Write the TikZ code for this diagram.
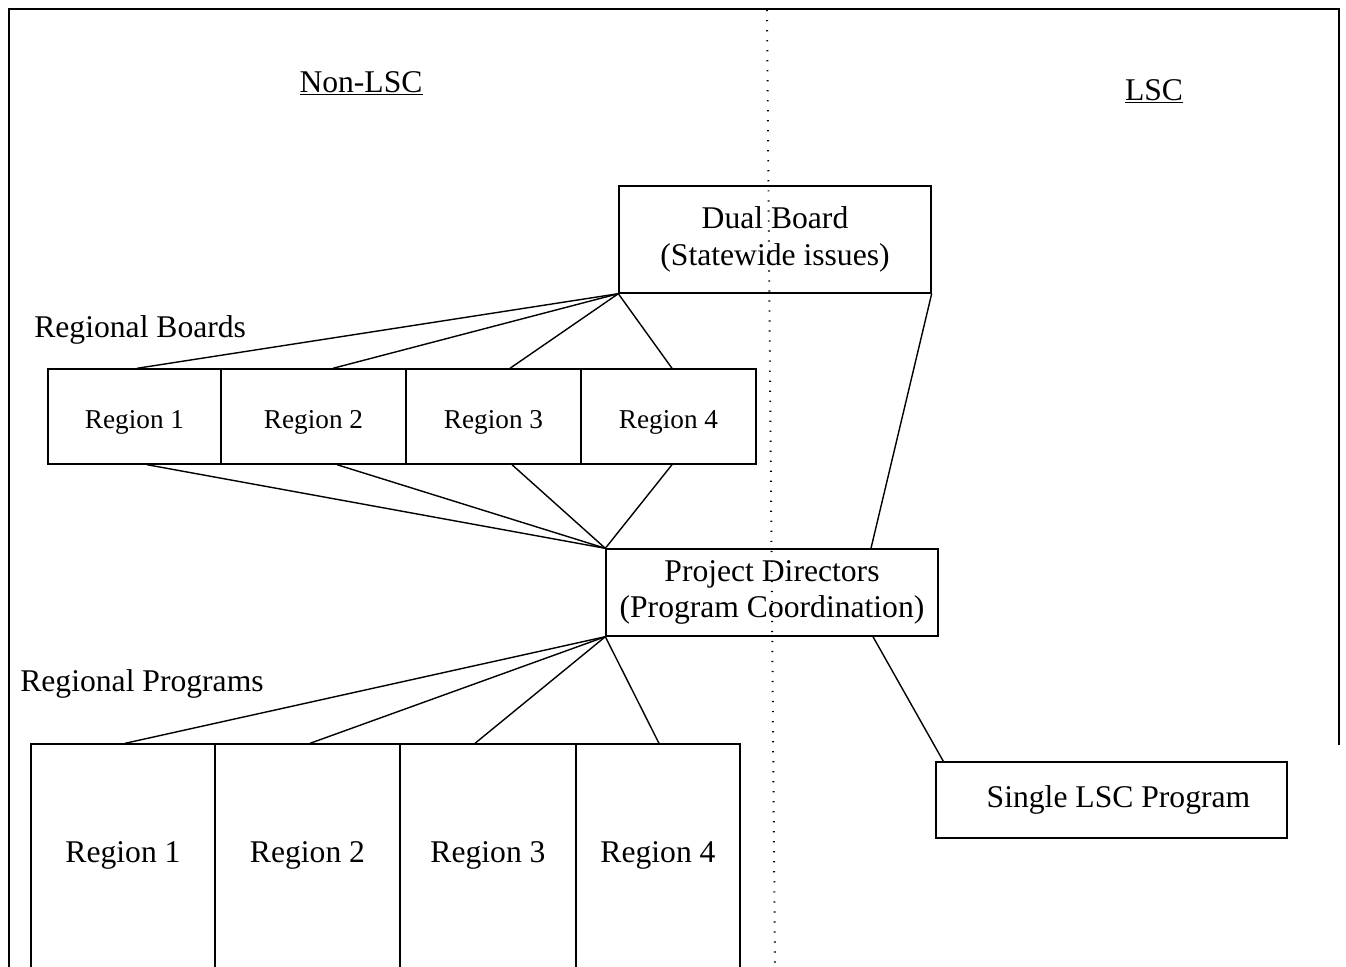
\documentclass[tikz,border=0pt]{standalone}
\usepackage{fontspec}
\setmainfont{Liberation Serif}
\begin{document}
\begin{tikzpicture}[x=0.02cm,y=-0.02cm,
  box/.style={draw,line width=0.8pt,inner sep=0pt,align=center},
  big/.style={font=\fontsize{18}{21}\selectfont},
  small/.style={font=\fontsize{15.5}{18}\selectfont},
  link/.style={line width=0.8pt},
  frame/.style={line width=1.6pt},
  divider/.style={line width=1.1pt,dash pattern=on 0.7pt off 5pt},
  title/.style={big,anchor=base,inner sep=0pt},
  caption/.style={big,anchor=base west,inner sep=0pt},
  progbox/.style={box,big,minimum height=4.62cm,text height=0.42cm,text depth=0.30cm},
  boardbox/.style={box,small,minimum height=1.9cm,text height=0.46cm,text depth=0cm},
]
\useasboundingbox (0,0) rectangle (1346,967);
\clip (0,0) rectangle (1346,967);

% frame and divider
\draw[frame] (9,980) -- (9,9) -- (1339,9) -- (1339,745);
\draw[divider] (767,10) -- (775,967);

% titles
\node[title] (nonlsc) at (361,92) {\underline{Non-LSC}};
\node[title] (lsc) at (1154,100) {\underline{LSC}};

% top box
\node[box,big,minimum width=6.24cm,minimum height=2.14cm] (dual) at (775,239.5)
  {Dual Board\\(Statewide issues)};

% regional boards
\node[caption] (rbcap) at (34,337) {Regional Boards};
\node[boardbox,minimum width=3.46cm] (b1) at (134.5,416.5) {Region 1};
\node[boardbox,minimum width=3.70cm] (b2) at (313.5,416.5) {Region 2};
\node[boardbox,minimum width=3.50cm] (b3) at (493.5,416.5) {Region 3};
\node[boardbox,minimum width=3.50cm] (b4) at (668.5,416.5) {Region 4};

% project directors
\node[box,font=\fontsize{18}{20}\selectfont,minimum width=6.64cm,minimum height=1.74cm] (pd) at (772,592.5)
  {Project Directors\\(Program Coordination)};

% single LSC program
\node[box,big,minimum width=7.02cm,minimum height=1.52cm] (slsc) at (1111.5,800) {\hspace*{0.28cm}Single LSC Program};

% regional programs
\node[caption] (rpcap) at (20,691) {Regional Programs};
\node[progbox,minimum width=3.68cm] (p1) at (123,859.5) {Region 1};
\node[progbox,minimum width=3.70cm] (p2) at (307.5,859.5) {Region 2};
\node[progbox,minimum width=3.52cm] (p3) at (488,859.5) {Region 3};
\node[progbox,minimum width=3.28cm] (p4) at (658,859.5) {Region 4};

% connectors: dual board to regional boards
\draw[link] (dual.south west) -- ([xshift=0.05cm]b1.north);
\draw[link] (dual.south west) -- ([xshift=0.39cm]b2.north);
\draw[link] (dual.south west) -- ([xshift=0.33cm]b3.north);
\draw[link] (dual.south west) -- ([xshift=0.07cm]b4.north);

% regional boards to project directors
\draw[link] ([xshift=0.25cm]b1.south) -- (pd.north west);
\draw[link] ([xshift=0.47cm]b2.south) -- (pd.north west);
\draw[link] ([xshift=0.37cm]b3.south) -- (pd.north west);
\draw[link] ([xshift=0.07cm]b4.south) -- (pd.north west);

% dual board to project directors
\draw[link] (dual.south east) -- ([xshift=1.98cm]pd.north);

% project directors to programs
\draw[link] (pd.south west) -- ([xshift=0.04cm]p1.north);
\draw[link] (pd.south west) -- ([xshift=0.05cm]p2.north);
\draw[link] (pd.south west) -- ([xshift=-0.26cm]p3.north);
\draw[link] (pd.south west) -- ([xshift=0.02cm]p4.north);

% project directors to single LSC program
\draw[link] ([xshift=2.02cm]pd.south) -- ([xshift=0.16cm]slsc.north west);
\end{tikzpicture}
\end{document}
